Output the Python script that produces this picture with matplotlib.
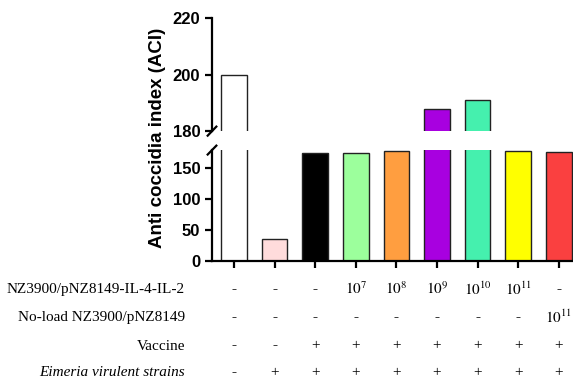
import matplotlib
matplotlib.use("Agg")
import matplotlib.pyplot as plt
from matplotlib.transforms import blended_transform_factory
import numpy as np

# bar values
aci = [200, 35, 174, 174, 178, 188, 191, 178, 176]
colors = ['#FFFFFF', '#FFDCDC', '#000000', '#9CFF9C', '#FF9E40',
          '#A800E0', '#45F0AE', '#FFFF00', '#FA4040']

row_labels = ['NZ3900/pNZ8149-IL-4-IL-2', 'No-load NZ3900/pNZ8149',
              'Vaccine', 'Eimeria virulent strains']
row_il = ['-', '-', '-', '$10^{7}$', '$10^{8}$', '$10^{9}$', '$10^{10}$', '$10^{11}$', '-']
row_noload = ['-', '-', '-', '-', '-', '-', '-', '-', '$10^{11}$']
row_vaccine = ['-', '-', '+', '+', '+', '+', '+', '+', '+']
row_eimeria = ['-', '+', '+', '+', '+', '+', '+', '+', '+']
rows = [row_il, row_noload, row_vaccine, row_eimeria]

plt.rcParams['mathtext.fontset'] = 'stix'

fig = plt.figure(figsize=(5.73, 3.79), dpi=100)
left, width = 0.370, 0.630
ax_low = fig.add_axes([left, 0.311, width, 0.293])
ax_up = fig.add_axes([left, 0.654, width, 0.298])

x = np.arange(len(aci))
for ax in (ax_low, ax_up):
    ax.bar(x, aci, width=0.63, color=colors, edgecolor='#222222', linewidth=1.0)
    ax.set_xlim(-0.54, 8.35)
    for s in ('top', 'right'):
        ax.spines[s].set_visible(False)
    ax.spines['left'].set_linewidth(1.6)
    ax.tick_params(axis='y', width=1.6, length=5, labelsize=12)

ax_low.set_ylim(0, 179)
ax_low.set_yticks([0, 50, 100, 150])
ax_low.spines['bottom'].set_linewidth(1.6)
ax_low.set_xticks(x)
ax_low.set_xticklabels([])
ax_low.tick_params(axis='x', width=1.6, length=5)

ax_up.set_ylim(180, 220)
ax_up.set_yticks([180, 200, 220])
ax_up.spines['bottom'].set_visible(False)
ax_up.set_xticks([])

for ax in (ax_low, ax_up):
    for lab in ax.get_yticklabels():
        lab.set_fontweight('bold')
        lab.set_family('Liberation Sans')

# break marks on the y axis
kw = dict(color='black', linewidth=1.6, clip_on=False)
ax_up.plot([-0.012, 0.012], [-0.04, 0.04], transform=ax_up.transAxes, **kw)
ax_low.plot([-0.012, 0.012], [0.96, 1.04], transform=ax_low.transAxes, **kw)

fig.text(0.275, 0.635, 'Anti coccidia index (ACI)', rotation=90, ha='center',
         va='center', fontsize=13.5, fontweight='bold', family='Liberation Sans')

# treatment table under the bars
trans = blended_transform_factory(ax_low.transData, fig.transFigure)
row_y = [0.237, 0.163, 0.087, 0.016]
for label, vals, yy in zip(row_labels, rows, row_y):
    style = 'italic' if label.startswith('Eimeria') else 'normal'
    fig.text(0.323, yy, label, ha='right', va='center', fontsize=11,
             family='Liberation Serif', style=style)
    for xi, v in zip(x, vals):
        weight = 'bold' if v == '-' else 'normal'
        ax_low.text(xi, yy, v, transform=trans, ha='center', va='center',
                    fontsize=11, family='Liberation Serif', fontweight=weight,
                    clip_on=False)

fig.savefig('out.png', dpi=100)
